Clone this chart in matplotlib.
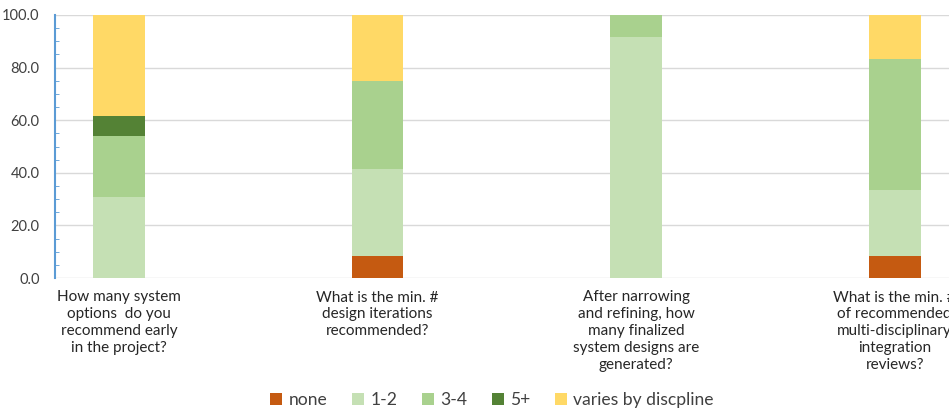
import numpy as np
import matplotlib.pyplot as plt
from matplotlib.ticker import MultipleLocator

plt.rcParams['font.family'] = ['Lato', 'DejaVu Sans']

questions = [
    "How many system\noptions  do you\nrecommend early\nin the project?",
    "What is the min. #\ndesign iterations\nrecommended?",
    "After narrowing\nand refining, how\nmany finalized\nsystem designs are\ngenerated?",
    "What is the min. #\nof recommended\nmulti-disciplinary\nintegration\nreviews?",
]
series = ["none", "1-2", "3-4", "5+", "varies by discpline"]
none = [0.0, 8.3, 0.0, 8.3]
one_two = [30.8, 33.3, 91.7, 25.0]
three_four = [23.1, 33.3, 8.3, 50.0]
five_plus = [7.7, 0.0, 0.0, 0.0]
varies = [38.5, 25.0, 0.0, 16.7]
yticks = [0, 20, 40, 60, 80, 100]

colors = ["#C55A11", "#C5E0B4", "#A9D18E", "#548235", "#FFD966"]

fig = plt.figure(figsize=(9.49, 4.09), dpi=100)
ax = fig.add_axes([55 / 949, 131 / 409, 894 / 949, 263 / 409])

x = np.arange(len(questions))
bottom = np.zeros(len(questions))
for name, vals, c in zip(series, [none, one_two, three_four, five_plus, varies], colors):
    ax.bar(x, vals, width=0.2, bottom=bottom, color=c, label=name, zorder=3)
    bottom += np.array(vals)

ax.set_yticks(yticks)
ax.set_yticklabels([f"{v:.1f}" for v in yticks], fontsize=10.5, color="#404040")
ax.yaxis.set_minor_locator(MultipleLocator(5))
ax.set_ylim(0, 100)
ax.set_xlim(-0.2475, 3.21)
ax.grid(axis="y", color="#D9D9D9", linewidth=1, zorder=0)

ax.set_xticks(x)
ax.set_xticklabels(questions, fontsize=11, color="#262626", linespacing=1.27, va="top")
ax.tick_params(axis="x", length=0, pad=9)
ax.tick_params(axis="y", which="major", length=0, pad=11)
ax.tick_params(axis="y", which="minor", direction="in", length=3, color="#5B9BD5")

for s in ["top", "right", "bottom"]:
    ax.spines[s].set_visible(False)
ax.spines["left"].set_color("#5B9BD5")
ax.spines["left"].set_linewidth(1.5)

fig.legend(loc="center", bbox_to_anchor=(492 / 949, 1 - 400 / 409), ncol=5, frameon=False,
           fontsize=12.6, handlelength=0.68, handleheight=0.68, columnspacing=1.42,
           handletextpad=0.35, labelcolor="#404040", borderpad=0)

fig.savefig("out.png", dpi=100)
